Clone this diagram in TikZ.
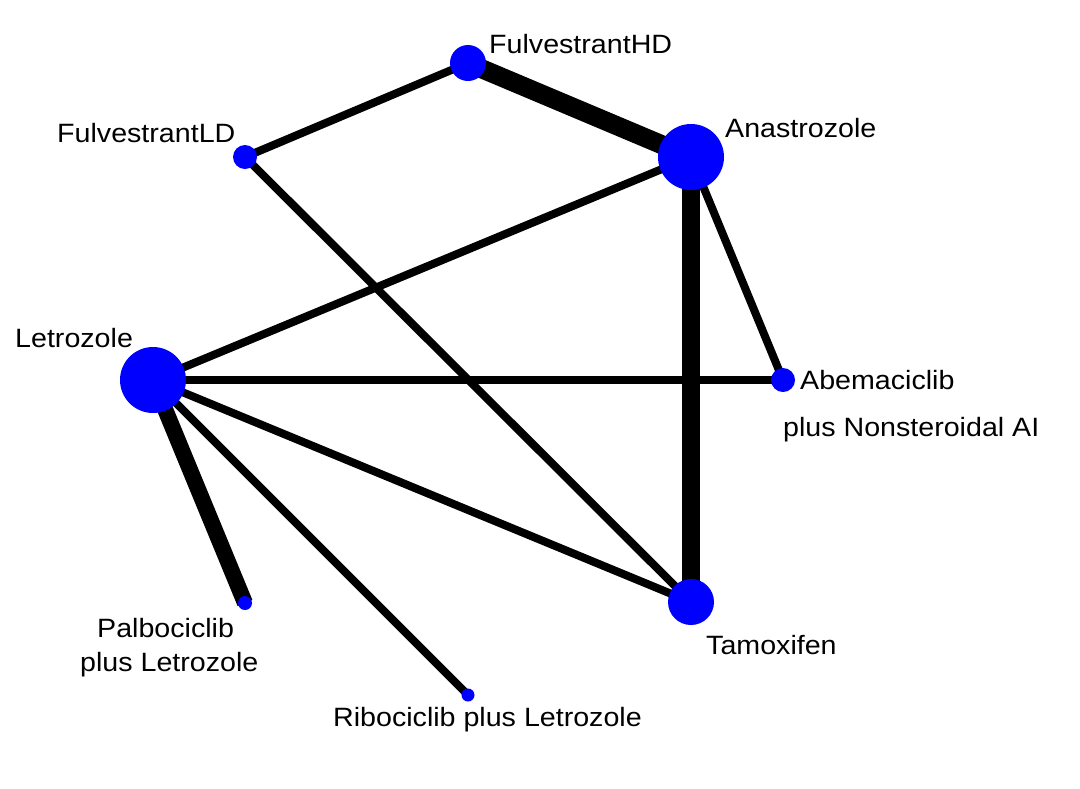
\documentclass[tikz,border=0pt]{standalone}
\usepackage{fontspec}
\setmainfont[FakeStretch=1.08]{Liberation Sans}
\begin{document}
\begin{tikzpicture}[x=1pt,y=-1pt,
  dot/.style={circle,fill=blue,inner sep=0pt,minimum size=#1},
  edge/.style={line width=#1,black},
  lbl/.style={anchor=base west,inner sep=0pt,font=\fontsize{26.5}{30}\selectfont}]
\useasboundingbox (0,0) rectangle (1080,788);
% node positions
\coordinate (HDc) at (468,63);
\coordinate (ANc) at (691,157);
\coordinate (LDc) at (245,157);
\coordinate (LEc) at (153,380);
\coordinate (ABc) at (783,380);
\coordinate (TAc) at (691,602);
\coordinate (PAc) at (245,603);
\coordinate (RIc) at (468,695);
% edges
\draw[edge=19pt] (HDc) -- (ANc);
\draw[edge=8pt] (HDc) -- (LDc);
\draw[edge=8pt] (LDc) -- (TAc);
\draw[edge=8pt] (ANc) -- (LEc);
\draw[edge=18pt] (ANc) -- (TAc);
\draw[edge=8pt] (ANc) -- (ABc);
\draw[edge=8pt] (LEc) -- (ABc);
\draw[edge=8pt] (LEc) -- (TAc);
\draw[edge=16pt] (LEc) -- (PAc);
\draw[edge=8pt] (LEc) -- (RIc);
% nodes
\node[dot=36pt] (HD) at (HDc) {};
\node[dot=66pt] (AN) at (ANc) {};
\node[dot=24pt] (LD) at (LDc) {};
\node[dot=66pt] (LE) at (LEc) {};
\node[dot=24pt] (AB) at (ABc) {};
\node[dot=46pt] (TA) at (TAc) {};
\node[dot=14pt] (PA) at (PAc) {};
\node[dot=13pt] (RI) at (RIc) {};
% labels
\node[lbl] (tHD) at (489,53) {FulvestrantHD};
\node[lbl] (tAN) at (725,137) {Anastrozole};
\node[lbl] (tLD) at (57,142) {FulvestrantLD};
\node[lbl] (tLE) at (15,347) {Letrozole};
\node[lbl] (tAB) at (800,389) {Abemaciclib};
\node[lbl] (tAB2) at (783,436) {plus Nonsteroidal AI};
\node[lbl] (tTA) at (706,654) {Tamoxifen};
\node[lbl] (tPA) at (97,637) {Palbociclib};
\node[lbl] (tPA2) at (80,671) {plus Letrozole};
\node[lbl] (tRI) at (333,726) {Ribociclib plus Letrozole};
\end{tikzpicture}
\end{document}
